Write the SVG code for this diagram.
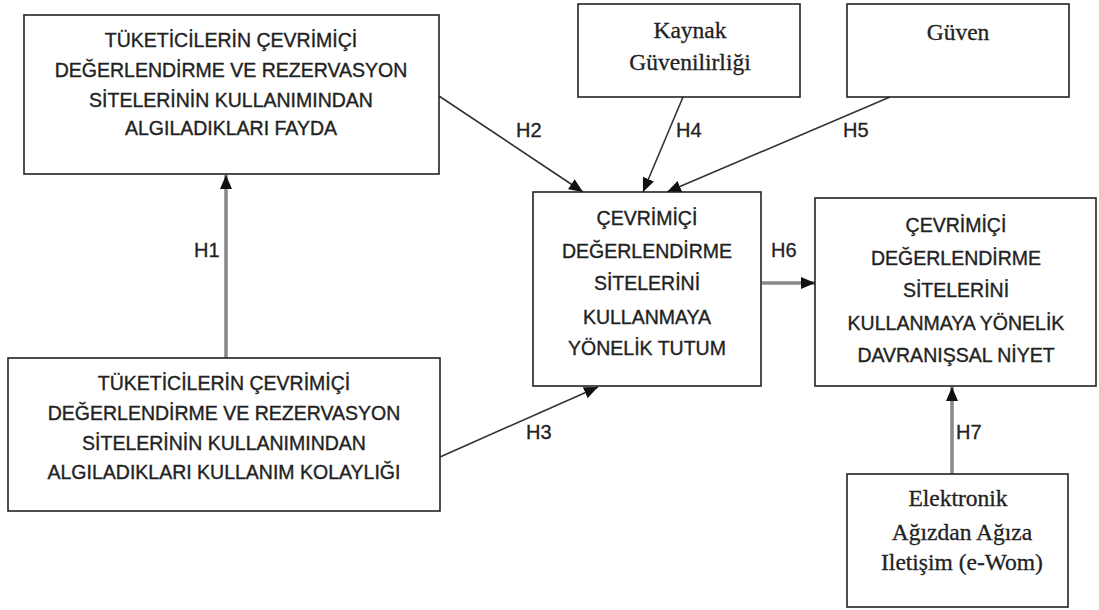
<svg xmlns="http://www.w3.org/2000/svg" width="1099" height="610" viewBox="0 0 1099 610">
<style>
.box{fill:#fff;stroke:#222;stroke-width:1.6}
.s{font-family:"Liberation Sans",Arial,sans-serif;font-size:19.5px;fill:#222;stroke:#222;stroke-width:0.35;text-anchor:middle}
.t{font-family:"Liberation Serif","Times New Roman",serif;font-size:23.5px;fill:#222;stroke:#222;stroke-width:0.3;text-anchor:middle}
.lbl{font-family:"Liberation Sans",Arial,sans-serif;font-size:20px;fill:#222;stroke:#222;stroke-width:0.3}
.thin{stroke:#333;stroke-width:1.6;fill:none}
.thick{stroke:#888;stroke-width:3.5;fill:none}
</style>
<defs>
<marker id="ah" markerUnits="userSpaceOnUse" markerWidth="14" markerHeight="12" refX="14" refY="6" orient="auto">
<path d="M0,0 L14,6 L0,12 Z" fill="#111"/>
</marker>
</defs>
<rect width="1099" height="610" fill="#fff"/>
<g id="connectors">
<line class="thick" x1="226" y1="358" x2="226" y2="175" marker-end="url(#ah)"/>
<line class="thin" x1="439" y1="96" x2="583" y2="192" marker-end="url(#ah)"/>
<line class="thin" x1="683" y1="97" x2="643" y2="192" marker-end="url(#ah)"/>
<line class="thin" x1="890" y1="97" x2="667" y2="192" marker-end="url(#ah)"/>
<line class="thin" x1="440" y1="457" x2="598" y2="387" marker-end="url(#ah)"/>
<line class="thick" x1="762" y1="283" x2="815" y2="283" marker-end="url(#ah)"/>
<line class="thick" x1="952" y1="474" x2="952" y2="387" marker-end="url(#ah)"/>
<text class="lbl" x="194" y="257">H1</text>
<text class="lbl" x="516" y="137">H2</text>
<text class="lbl" x="526" y="439">H3</text>
<text class="lbl" x="676" y="137">H4</text>
<text class="lbl" x="843" y="137">H5</text>
<text class="lbl" x="771" y="257">H6</text>
<text class="lbl" x="956" y="439">H7</text>
</g>
<g id="fayda">
<rect class="box" x="24" y="15" width="415" height="159"/>
<text class="s" x="231" y="47">TÜKETİCİLERİN ÇEVRİMİÇİ</text>
<text class="s" x="231" y="77">DEĞERLENDİRME VE REZERVASYON</text>
<text class="s" x="231" y="107">SİTELERİNİN KULLANIMINDAN</text>
<text class="s" x="231" y="135">ALGILADIKLARI FAYDA</text>
</g>
<g id="kolaylik">
<rect class="box" x="8" y="358" width="432" height="153"/>
<text class="s" x="224" y="390">TÜKETİCİLERİN ÇEVRİMİÇİ</text>
<text class="s" x="224" y="420">DEĞERLENDİRME VE REZERVASYON</text>
<text class="s" x="224" y="450">SİTELERİNİN KULLANIMINDAN</text>
<text class="s" x="224" y="479">ALGILADIKLARI KULLANIM KOLAYLIĞI</text>
</g>
<g id="kaynak">
<rect class="box" x="578" y="4" width="222" height="93"/>
<text class="t" x="690" y="38">Kaynak</text>
<text class="t" x="690" y="70">Güvenilirliği</text>
</g>
<g id="guven">
<rect class="box" x="847" y="4" width="222" height="93"/>
<text class="t" x="958" y="40">Güven</text>
</g>
<g id="tutum">
<rect class="box" x="533" y="192" width="228" height="194"/>
<text class="s" x="647" y="225">ÇEVRİMİÇİ</text>
<text class="s" x="647" y="258">DEĞERLENDİRME</text>
<text class="s" x="647" y="290">SİTELERİNİ</text>
<text class="s" x="647" y="324">KULLANMAYA</text>
<text class="s" x="647" y="355">YÖNELİK TUTUM</text>
</g>
<g id="niyet">
<rect class="box" x="815" y="198" width="281" height="188"/>
<text class="s" x="956" y="232">ÇEVRİMİÇİ</text>
<text class="s" x="956" y="265">DEĞERLENDİRME</text>
<text class="s" x="956" y="297">SİTELERİNİ</text>
<text class="s" x="956" y="330">KULLANMAYA YÖNELİK</text>
<text class="s" x="956" y="362">DAVRANIŞSAL NİYET</text>
</g>
<g id="ewom">
<rect class="box" x="847" y="474" width="221" height="133"/>
<text class="t" x="958" y="506">Elektronik</text>
<text class="t" x="962" y="540">Ağızdan Ağıza</text>
<text class="t" x="962" y="570">Iletişim (e-Wom)</text>
</g>
</svg>
